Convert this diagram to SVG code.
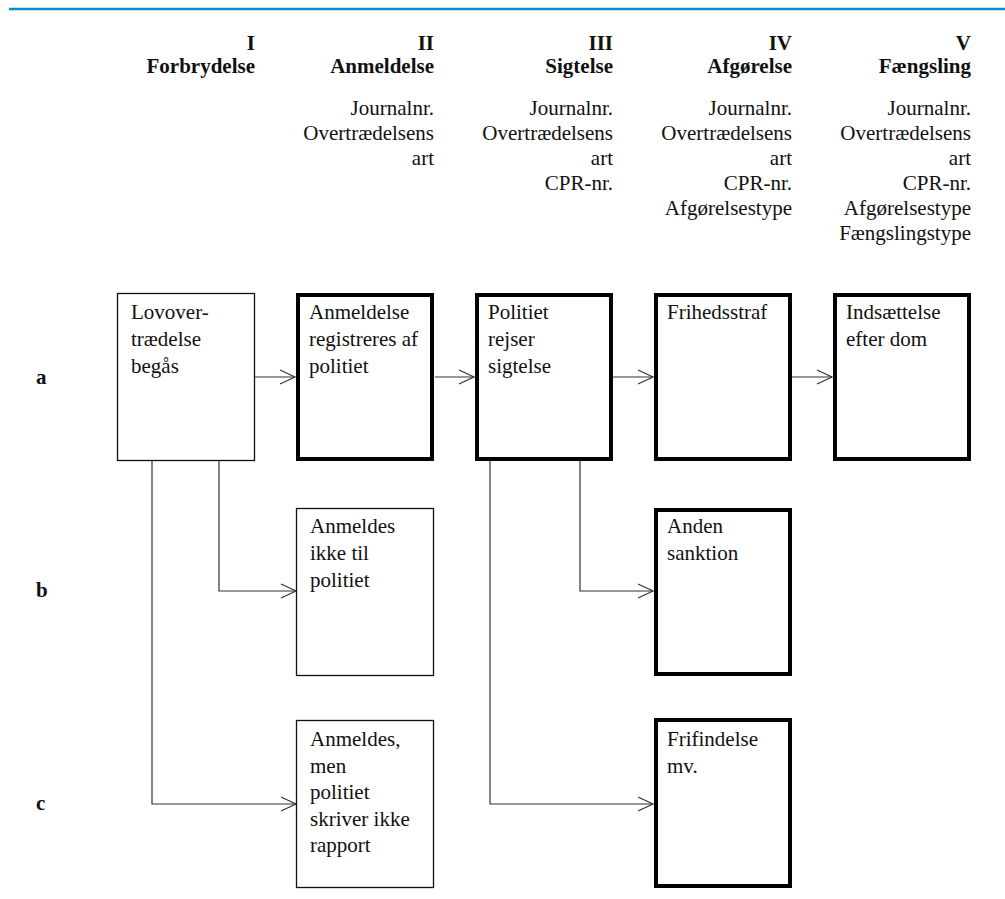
<svg xmlns="http://www.w3.org/2000/svg" width="1005" height="899" viewBox="0 0 1005 899" font-family="'Liberation Serif', 'DejaVu Serif', serif">
<style>
text{font-family:'Liberation Serif','Tinos','Noto Serif','DejaVu Serif',serif;fill:#111;}
.h{font-size:21px;font-weight:bold;text-anchor:end;}
.d{font-size:21px;text-anchor:end;}
.t{font-size:21px;}
.r{font-size:21px;font-weight:bold;}
.thin{fill:#fff;stroke:#111;stroke-width:1.3;}
.thick{fill:#fff;stroke:#000;stroke-width:4;}
.c{fill:none;stroke:#333;stroke-width:1.2;}
</style>
<defs>
<marker id="ah" markerUnits="userSpaceOnUse" markerWidth="20" markerHeight="20" viewBox="-16 -10 20 20" refX="0" refY="0" orient="auto">
<path d="M-15,-7 L0,0 L-15,7" fill="none" stroke="#333" stroke-width="1.2"/>
</marker>
</defs>
<rect width="1005" height="899" fill="#fff"/>
<line x1="9" y1="9" x2="1005" y2="9" stroke="#0a8bd0" stroke-width="2.5"/>

<g id="headers">
<text class="h" x="255" y="50">I</text><text class="h" x="255" y="73">Forbrydelse</text>
<text class="h" x="434" y="50">II</text><text class="h" x="434" y="73">Anmeldelse</text>
<text class="d" x="434" y="115">Journalnr.</text><text class="d" x="434" y="140">Overtrædelsens</text><text class="d" x="434" y="165">art</text>
<text class="h" x="613" y="50">III</text><text class="h" x="613" y="73">Sigtelse</text>
<text class="d" x="613" y="115">Journalnr.</text><text class="d" x="613" y="140">Overtrædelsens</text><text class="d" x="613" y="165">art</text><text class="d" x="613" y="190">CPR-nr.</text>
<text class="h" x="792" y="50">IV</text><text class="h" x="792" y="73">Afgørelse</text>
<text class="d" x="792" y="115">Journalnr.</text><text class="d" x="792" y="140">Overtrædelsens</text><text class="d" x="792" y="165">art</text><text class="d" x="792" y="190">CPR-nr.</text><text class="d" x="792" y="215">Afgørelsestype</text>
<text class="h" x="971" y="50">V</text><text class="h" x="971" y="73">Fængsling</text>
<text class="d" x="971" y="115">Journalnr.</text><text class="d" x="971" y="140">Overtrædelsens</text><text class="d" x="971" y="165">art</text><text class="d" x="971" y="190">CPR-nr.</text><text class="d" x="971" y="215">Afgørelsestype</text><text class="d" x="971" y="240">Fængslingstype</text>
</g>

<g id="rowlabels">
<text class="r" x="36" y="384">a</text>
<text class="r" x="36" y="597">b</text>
<text class="r" x="36" y="810">c</text>
</g>

<g id="connectors">
<line class="c" x1="255" y1="377" x2="295" y2="377" marker-end="url(#ah)"/>
<line class="c" x1="435" y1="377" x2="474" y2="377" marker-end="url(#ah)"/>
<line class="c" x1="613" y1="377" x2="653" y2="377" marker-end="url(#ah)"/>
<line class="c" x1="792" y1="377" x2="832" y2="377" marker-end="url(#ah)"/>
<polyline class="c" points="219,461 219,591 296,591" marker-end="url(#ah)"/>
<polyline class="c" points="152,461 152,804 296,804" marker-end="url(#ah)"/>
<polyline class="c" points="580,461 580,591 653,591" marker-end="url(#ah)"/>
<polyline class="c" points="490,461 490,804 653,804" marker-end="url(#ah)"/>
</g>

<g id="n1">
<rect class="thin" x="117.5" y="293.5" width="137" height="167"/>
<text class="t" x="131" y="319">Lovover-</text><text class="t" x="131" y="346">trædelse</text><text class="t" x="131" y="373">begås</text>
</g>
<g id="n2">
<rect class="thick" x="298" y="295" width="134" height="164"/>
<text class="t" x="309" y="319">Anmeldelse</text><text class="t" x="309" y="346">registreres af</text><text class="t" x="309" y="373">politiet</text>
</g>
<g id="n3">
<rect class="thick" x="477" y="295" width="134" height="164"/>
<text class="t" x="488" y="319">Politiet</text><text class="t" x="488" y="346">rejser</text><text class="t" x="488" y="373">sigtelse</text>
</g>
<g id="n4">
<rect class="thick" x="656" y="295" width="134" height="164"/>
<text class="t" x="667" y="319">Frihedsstraf</text>
</g>
<g id="n5">
<rect class="thick" x="835" y="295" width="134" height="164"/>
<text class="t" x="846" y="319">Indsættelse</text><text class="t" x="846" y="346">efter dom</text>
</g>
<g id="n6">
<rect class="thin" x="296.5" y="508.5" width="137" height="167"/>
<text class="t" x="310" y="533">Anmeldes</text><text class="t" x="310" y="560">ikke til</text><text class="t" x="310" y="587">politiet</text>
</g>
<g id="n7">
<rect class="thick" x="656" y="510" width="134" height="164"/>
<text class="t" x="667" y="533">Anden</text><text class="t" x="667" y="560">sanktion</text>
</g>
<g id="n8">
<rect class="thin" x="296.5" y="720.5" width="137" height="167"/>
<text class="t" x="310" y="746">Anmeldes,</text><text class="t" x="310" y="773">men</text><text class="t" x="310" y="799">politiet</text><text class="t" x="310" y="826">skriver ikke</text><text class="t" x="310" y="852">rapport</text>
</g>
<g id="n9">
<rect class="thick" x="656" y="720" width="134" height="166"/>
<text class="t" x="667" y="746">Frifindelse</text><text class="t" x="667" y="773">mv.</text>
</g>
</svg>
